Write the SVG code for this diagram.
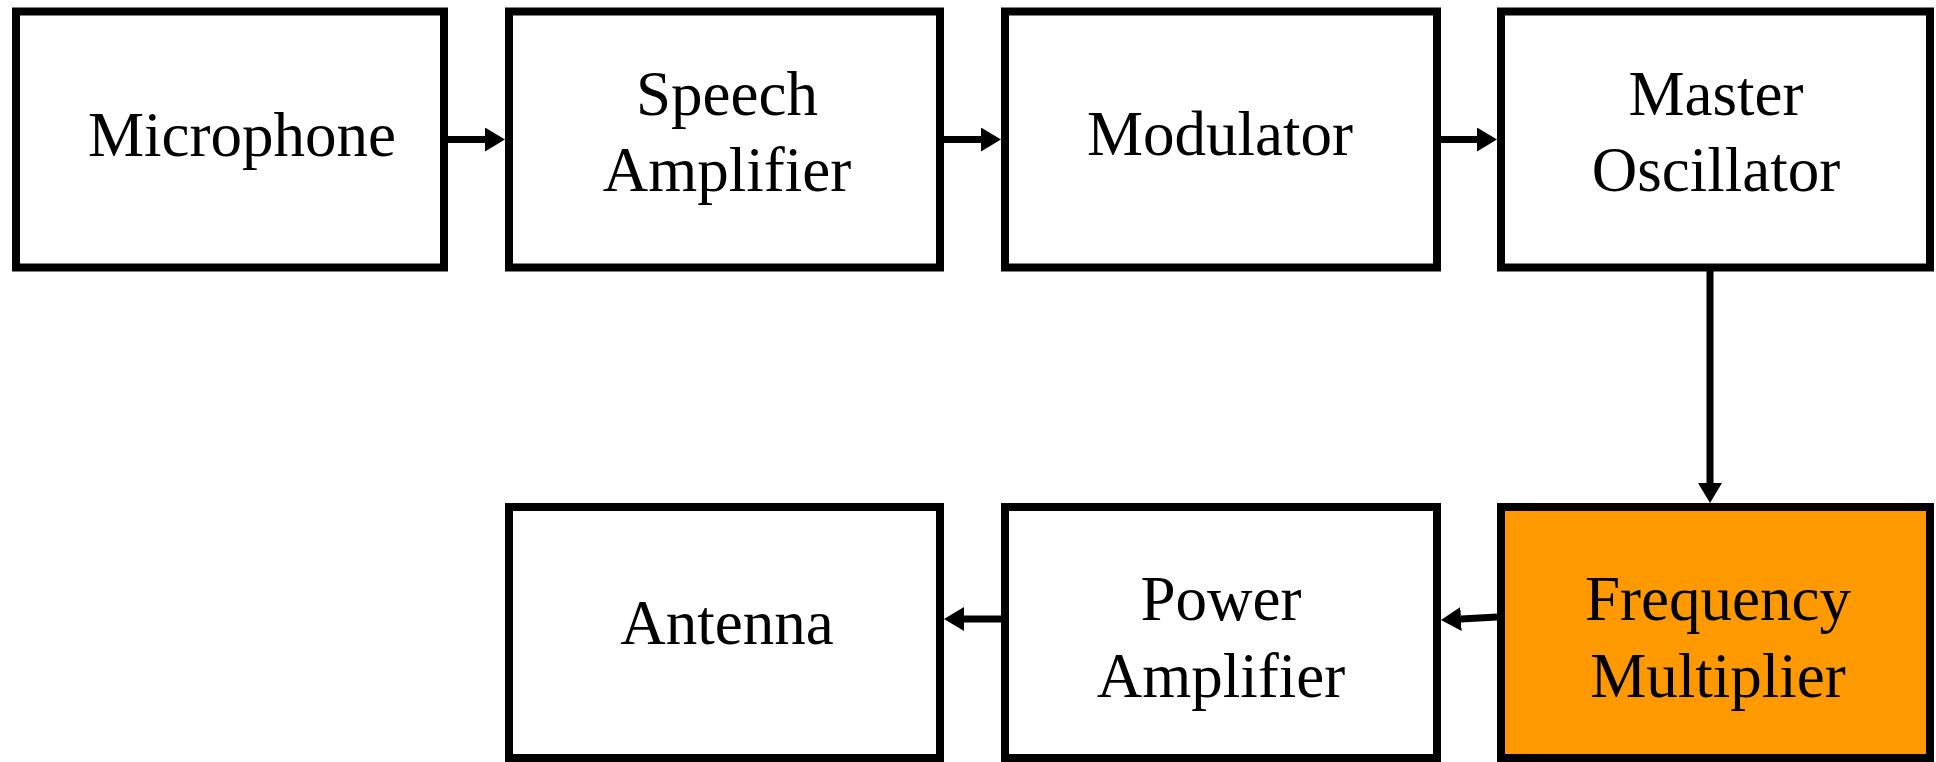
<svg xmlns="http://www.w3.org/2000/svg" width="1936" height="762" viewBox="0 0 1936 762">
<style>
.box{fill:#fff;stroke:#000;stroke-width:8}
.hl{fill:#ff9900}
.lbl{font-family:"Liberation Serif","Times New Roman",serif;font-size:63px;fill:#000;text-anchor:middle}
.conn{fill:none;stroke:#000;stroke-width:7;marker-end:url(#ah)}
</style>
<defs>
<marker id="ah" markerUnits="userSpaceOnUse" viewBox="0 0 20 24" markerWidth="20" markerHeight="24" refX="0" refY="12" orient="auto">
<path d="M0,0 L20,12 L0,24 Z" fill="#000"/>
</marker>
</defs>
<rect width="1936" height="762" fill="#fff"/>
<g id="microphone"><rect class="box" x="16" y="11.5" width="428" height="256"/><text class="lbl" x="242" y="156">Microphone</text></g>
<g id="speech-amplifier"><rect class="box" x="509" y="11.5" width="431" height="256"/><text class="lbl" x="727" y="115">Speech</text><text class="lbl" x="727" y="191">Amplifier</text></g>
<g id="modulator"><rect class="box" x="1005" y="11.5" width="432" height="256"/><text class="lbl" x="1220" y="155">Modulator</text></g>
<g id="master-oscillator"><rect class="box" x="1501" y="11.5" width="429" height="256"/><text class="lbl" x="1716" y="115">Master</text><text class="lbl" x="1716" y="191">Oscillator</text></g>
<g id="antenna"><rect class="box" x="509" y="507" width="431" height="251"/><text class="lbl" x="727" y="644">Antenna</text></g>
<g id="power-amplifier"><rect class="box" x="1005" y="507" width="432" height="251"/><text class="lbl" x="1221" y="620">Power</text><text class="lbl" x="1221" y="697">Amplifier</text></g>
<g id="frequency-multiplier"><rect class="box hl" x="1501" y="507" width="429" height="251"/><text class="lbl" x="1718" y="620">Frequency</text><text class="lbl" x="1718" y="697">Multiplier</text></g>
<g id="connectors">
<path class="conn" d="M448,139.5 L485,139.5"/>
<path class="conn" d="M944,139.5 L981,139.5"/>
<path class="conn" d="M1441,139.5 L1477,139.5"/>
<path class="conn" d="M1710,271 L1710,483"/>
<path class="conn" d="M1497,617 L1461,619"/>
<path class="conn" d="M1001,619 L964,619"/>
</g>
</svg>
